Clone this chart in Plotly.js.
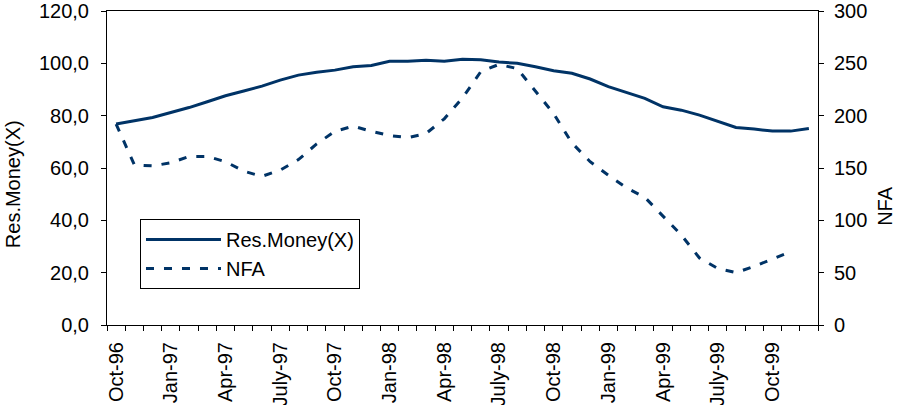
<!DOCTYPE html>
<html>
<head>
<meta charset="utf-8">
<script src="https://cdn.plot.ly/plotly-3.0.1.min.js"></script>
<style>html,body{margin:0;padding:0;background:#fff;}#chart{width:897px;height:405px;}</style>
</head>
<body>
<div id="chart"></div>
<script>
var months = ["Oct-96","Nov-96","Dec-96","Jan-97","Feb-97","Mar-97","Apr-97","May-97","Jun-97","July-97","Aug-97","Sep-97",
  "Oct-97","Nov-97","Dec-97","Jan-98","Feb-98","Mar-98","Apr-98","May-98","Jun-98","July-98","Aug-98","Sep-98",
  "Oct-98","Nov-98","Dec-98","Jan-99","Feb-99","Mar-99","Apr-99","May-99","Jun-99","July-99","Aug-99","Sep-99",
  "Oct-99","Nov-99","Dec-99"];
var resMoney = [76.8,78.0,79.3,81.2,83.1,85.3,87.6,89.4,91.3,93.6,95.5,96.6,
  97.4,98.7,99.2,100.8,100.8,101.2,100.8,101.6,101.4,100.5,100.0,98.7,
  97.2,96.2,94.0,91.1,88.9,86.6,83.4,82.1,80.2,78.0,75.5,74.9,
  74.1,74.1,75.1];
var nfa = [192,153,152,155,161,161,156,147,142,148,158,173,
  185,190,185,181,179,183,197,217,242,249,245,224,
  202,174,156,143,131,122,104,86,64,54,50,56,
  63,70];
var tickLabels = ["Oct-96","Jan-97","Apr-97","July-97","Oct-97","Jan-98","Apr-98","July-98","Oct-98","Jan-99","Apr-99","July-99","Oct-99"];

var xIdx = months.map(function(m, i){ return i; });
var tickVals = tickLabels.map(function(t){ return months.indexOf(t); });
var navy = "#003366";
var font = {family: "Liberation Sans, Arial, sans-serif", size: 20, color: "#000"};

var traces = [
  {x: xIdx, y: resMoney, name: "Res.Money(X)", type: "scatter", mode: "lines",
   line: {color: navy, width: 3}, yaxis: "y"},
  {x: xIdx.slice(0, nfa.length), y: nfa, name: "NFA", type: "scatter", mode: "lines",
   line: {color: navy, width: 3, dash: "8px,10px"}, yaxis: "y2"}
];

var layout = {
  width: 897, height: 405,
  margin: {l: 107, r: 79, t: 11, b: 80},
  paper_bgcolor: "#fff", plot_bgcolor: "#fff",
  font: font,
  separators: ",.",
  showlegend: true,
  legend: {x: 0.0464, y: 0.3376, xanchor: "left", yanchor: "top",
    bordercolor: "#000", borderwidth: 1, bgcolor: "#fff",
    font: font, itemwidth: 75, tracegroupgap: 0},
  xaxis: {
    range: [-0.5, 38.5], tickmode: "array", tickvals: tickVals, ticktext: tickLabels,
    tickangle: -90, ticks: "", showgrid: false, zeroline: false,
    showline: true, linecolor: "#000", linewidth: 1, mirror: true,
    ticklabelstandoff: 8,
    minor: {tick0: 0.5, dtick: 1, ticks: "outside", ticklen: 5, tickcolor: "#000", showgrid: false},
    tickfont: font
  },
  yaxis: {
    range: [0, 120], dtick: 20, tickformat: ".1f", ticks: "outside", ticklen: 5,
    tickcolor: "#000", showgrid: false, zeroline: false,
    showline: true, linecolor: "#000", linewidth: 1, ticklabelstandoff: 8,
    tickfont: font
  },
  yaxis2: {
    range: [0, 300], dtick: 50, overlaying: "y", side: "right", anchor: "x",
    ticks: "outside", ticklen: 5, tickcolor: "#000", showgrid: false, zeroline: false,
    showline: true, linecolor: "#000", linewidth: 1, ticklabelstandoff: 6,
    tickfont: font
  },
  annotations: [
    {text: "Res.Money(X)", xref: "paper", yref: "paper", x: -0.132, y: 0.449,
     textangle: -90, showarrow: false, font: font, xanchor: "center", yanchor: "middle"},
    {text: "NFA", xref: "paper", yref: "paper", x: 1.094, y: 0.379,
     textangle: -90, showarrow: false, font: font, xanchor: "center", yanchor: "middle"}
  ]
};

Plotly.newPlot("chart", traces, layout, {displayModeBar: false, staticPlot: true});
</script>
</body>
</html>
